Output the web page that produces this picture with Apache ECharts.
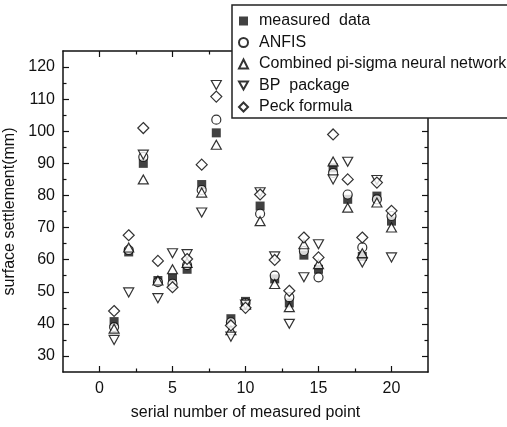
<!DOCTYPE html>
<html>
<head>
<meta charset="utf-8">
<script src="https://cdn.jsdelivr.net/npm/echarts@6/dist/echarts.min.js"></script>
<style>
  html, body { margin: 0; padding: 0; background: #fff; }
  #chart { width: 507px; height: 427px; }
</style>
</head>
<body>
<div id="chart"></div>
<script>
// serial number of each measured point
const pointNo = [1, 2, 3, 4, 5, 6, 7, 8, 9, 10, 11, 12, 13, 14, 15, 16, 17, 18, 19, 20];

// surface settlement (mm)
const measured = [40.7, 62.4, 90, 53.5, 54.5, 57, 83.4, 99.5, 41.6, 47, 76.7, 54, 46.5, 61.4, 57, 88.6, 78.8, 61, 79.8, 72];
const anfis    = [39, 63, 92, 53, 52.5, 58.3, 81.7, 103.6, 40.5, 46.5, 74.3, 55, 48.3, 62.7, 54.5, 87, 80.3, 63.8, 78.8, 73.6];
const piSigma  = [38.5, 63.8, 85, 53.5, 57, 59, 80.9, 95.8, 38, 46, 72, 52.4, 45.2, 64.8, 58.6, 90.6, 76.2, 62, 77.8, 70];
const bp       = [35, 49.8, 92.7, 48, 62, 61.7, 74.7, 114.4, 36, 46, 81, 61, 40, 54.5, 64.8, 85, 90.5, 59.1, 84.8, 60.7];
const peck     = [44, 67.6, 101, 59.6, 51.4, 60.2, 89.6, 110.8, 39.5, 45, 80.3, 59.9, 50.3, 66.9, 60.7, 99, 85, 66.9, 84, 75.2];

// tick positions
const xMajor = [0, 5, 10, 15, 20];
const xMinor = [2.5, 7.5, 12.5, 17.5];
const yMajor = [30, 40, 50, 60, 70, 80, 90, 100, 110, 120];
const yMinor = [35, 45, 55, 65, 75, 85, 95, 105, 115];

const chart = echarts.init(document.getElementById('chart'));

const font = 'Liberation Sans, Arial, sans-serif';

function pairs(ys) {
    return pointNo.map((x, i) => [x, ys[i]]);
}

// one axis: major or minor ticks; minor ones hide their line
function axis(kind, position, ticks, len, showLine, extra) {
    const isX = kind === 'x';
    return Object.assign({
        type: 'value',
        position: position,
        min: isX ? -2.5 : 25,
        max: isX ? 22.5 : 125,
        axisLine: { show: showLine, onZero: false, lineStyle: { color: '#111', width: 1.5 } },
        axisTick: { show: true, inside: true, length: len, customValues: ticks, lineStyle: { color: '#111', width: 1.2 } },
        axisLabel: { show: false },
        splitLine: { show: false }
    }, extra || {});
}

const hollow = { color: '#fff', borderColor: '#000', borderWidth: 1.2 };

const option = {
    backgroundColor: '#fff',
    animation: false,
    grid: { left: 63, right: 79, top: 51, bottom: 55, outerBoundsMode: 'none' },
    legend: {
        orient: 'vertical',
        left: 232,
        top: 5,
        padding: [7, 2, 2, 6],
        itemGap: 3.5,
        itemWidth: 9,
        itemHeight: 9,
        backgroundColor: '#fff',
        borderColor: '#222',
        borderWidth: 1.5,
        borderRadius: 0,
        textStyle: { fontFamily: font, fontSize: 16, color: '#111', lineHeight: 18, padding: [0, 0, 0, 6] },
        data: ['measured  data', 'ANFIS', 'Combined pi-sigma neural network', 'BP  package', 'Peck formula']
    },
    xAxis: [
        axis('x', 'bottom', xMajor, 6, true, {
            name: 'serial number of measured point',
            nameLocation: 'middle',
            nameGap: 33,
            nameTextStyle: { fontFamily: font, fontSize: 16, color: '#111' },
            axisLabel: { show: true, customValues: xMajor, margin: 9, fontFamily: font, fontSize: 16, color: '#111' }
        }),
        axis('x', 'bottom', xMinor, 3.5, false),
        axis('x', 'top', xMajor, 6, true),
        axis('x', 'top', xMinor, 3.5, false)
    ],
    yAxis: [
        axis('y', 'left', yMajor, 6, true, {
            name: 'surface settlement(mm)',
            nameLocation: 'middle',
            nameGap: 41,
            nameTextStyle: { fontFamily: font, fontSize: 16, color: '#111' },
            axisLabel: { show: true, customValues: yMajor, margin: 8, fontFamily: font, fontSize: 16, color: '#111' }
        }),
        axis('y', 'left', yMinor, 3.5, false),
        axis('y', 'right', yMajor, 6, true),
        axis('y', 'right', yMinor, 3.5, false)
    ],
    series: [
        {
            name: 'measured  data', type: 'scatter', symbol: 'rect', symbolSize: 9,
            itemStyle: { color: '#111' }, data: pairs(measured)
        },
        {
            name: 'ANFIS', type: 'scatter', symbol: 'circle', symbolSize: 9,
            itemStyle: hollow, data: pairs(anfis)
        },
        {
            name: 'Combined pi-sigma neural network', type: 'scatter', symbol: 'triangle', symbolSize: [10, 9],
            itemStyle: hollow, data: pairs(piSigma)
        },
        {
            name: 'BP  package', type: 'scatter', symbol: 'path://M0,0L10,0L5,9Z', symbolSize: [10, 9],
            itemStyle: hollow, data: pairs(bp)
        },
        {
            name: 'Peck formula', type: 'scatter', symbol: 'diamond', symbolSize: 11,
            itemStyle: hollow, data: pairs(peck)
        }
    ]
};

chart.setOption(option);
</script>
</body>
</html>
